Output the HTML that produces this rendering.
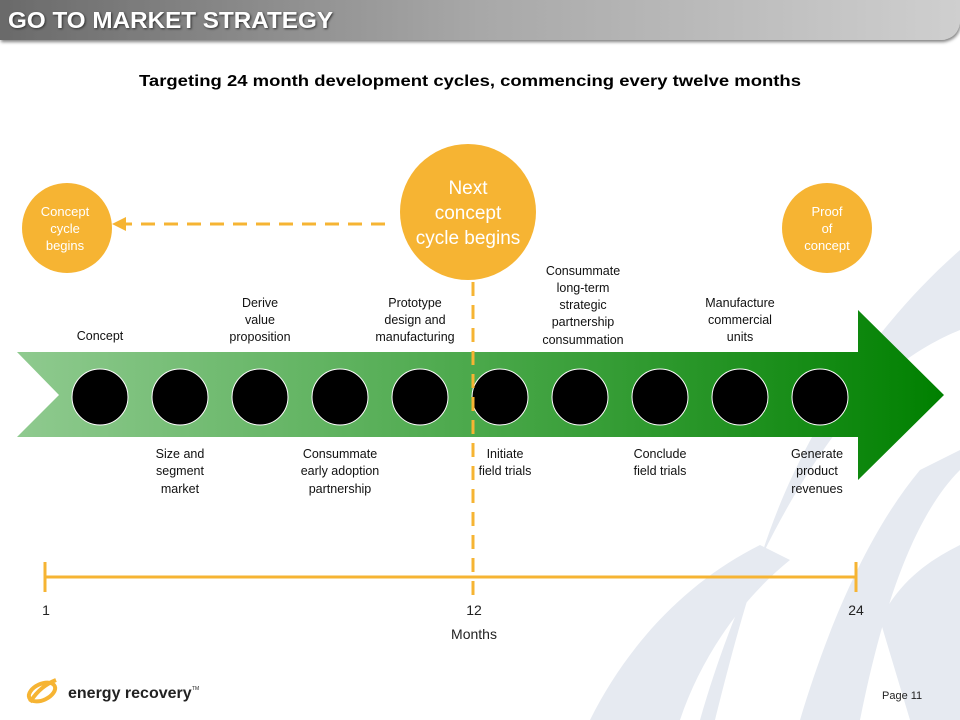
<!DOCTYPE html>
<html><head><meta charset="utf-8"><style>
html,body{margin:0;padding:0;background:#fff;}
svg{display:block;font-family:"Liberation Sans",sans-serif;}
</style></head><body>
<svg width="960" height="720" viewBox="0 0 960 720" xmlns="http://www.w3.org/2000/svg">
<defs>
<linearGradient id="hd" x1="0" x2="1" y1="0" y2="0"><stop offset="0" stop-color="#6a6a6a"/><stop offset="0.5" stop-color="#a8a8a8"/><stop offset="1" stop-color="#cfcfcf"/></linearGradient>
<linearGradient id="gr" x1="0" x2="1" y1="0" y2="0"><stop offset="0" stop-color="#8fca8f"/><stop offset="0.5" stop-color="#4aa84a"/><stop offset="1" stop-color="#008000"/></linearGradient>
<filter id="sh" x="-5%" y="-20%" width="110%" height="160%"><feDropShadow dx="1" dy="2" stdDeviation="1.5" flood-opacity="0.5"/></filter>
</defs>
<!-- background swooshes -->
<path d="M590 720 C630 640 690 580 760 545 L790 560 C740 600 700 660 680 720 Z" fill="#e6eaf1"/>
<path d="M700 720 C740 580 800 470 870 390 C900 360 935 340 960 330 L960 250 C880 320 800 430 760 560 C740 620 725 680 715 720 Z" fill="#e6eaf1"/>
<path d="M800 720 C830 620 870 530 920 470 L960 450 L960 470 C910 520 880 620 860 720 Z" fill="#e6eaf1"/>
<path d="M880 620 C900 580 930 560 960 545 L960 720 L910 720 Z" fill="#e6eaf1"/>
<!-- header -->
<path d="M0 0 H960 V22 Q958 38 942 40 H0 Z" fill="url(#hd)" filter="url(#sh)"/>
<text x="8" y="28" font-size="23" font-weight="bold" fill="#fff" textLength="325" lengthAdjust="spacingAndGlyphs" style="text-shadow:1px 1px 2px #333">GO TO MARKET STRATEGY</text>
<text x="470" y="86" font-size="16" font-weight="bold" text-anchor="middle" fill="#000" textLength="662" lengthAdjust="spacingAndGlyphs">Targeting 24 month development cycles, commencing every twelve months</text>
<!-- arrow -->
<path d="M17 352 H858 V310 L944 395 L858 480 V437 H17 L59 395 Z" fill="url(#gr)"/>
<g fill="#000" stroke="#fff" stroke-width="1">
<circle cx="100" cy="397" r="28"/><circle cx="180" cy="397" r="28"/><circle cx="260" cy="397" r="28"/><circle cx="340" cy="397" r="28"/><circle cx="420" cy="397" r="28"/><circle cx="500" cy="397" r="28"/><circle cx="580" cy="397" r="28"/><circle cx="660" cy="397" r="28"/><circle cx="740" cy="397" r="28"/><circle cx="820" cy="397" r="28"/>
</g>
<!-- orange circles -->
<circle cx="67" cy="228" r="45" fill="#f6b433"/>
<circle cx="468" cy="212" r="68" fill="#f6b433"/>
<circle cx="827" cy="228" r="45" fill="#f6b433"/>
<g fill="#fff" text-anchor="middle">
<text x="65" y="216" font-size="13">Concept</text><text x="65" y="233" font-size="13">cycle</text><text x="65" y="250" font-size="13">begins</text>
<text x="468" y="194" font-size="19">Next</text><text x="468" y="219" font-size="19">concept</text><text x="468" y="244" font-size="19">cycle begins</text>
<text x="827" y="216" font-size="13">Proof</text><text x="827" y="233" font-size="13">of</text><text x="827" y="250" font-size="13">concept</text>
</g>
<!-- dashed lines -->
<line x1="385" y1="224" x2="125" y2="224" stroke="#f6b433" stroke-width="3" stroke-dasharray="14,9"/>
<path d="M112 224 L126 217 L126 231 Z" fill="#f6b433"/>
<line x1="473" y1="282" x2="473" y2="600" stroke="#f6b433" stroke-width="3" stroke-dasharray="14,9"/>
<!-- labels -->
<g font-size="12.5" fill="#111" text-anchor="middle">
<text x="100" y="340">Concept</text>
<text x="260" y="307">Derive</text><text x="260" y="324">value</text><text x="260" y="341">proposition</text>
<text x="415" y="307">Prototype</text><text x="415" y="324">design and</text><text x="415" y="341">manufacturing</text>
<text x="583" y="275">Consummate</text><text x="583" y="292">long-term</text><text x="583" y="309">strategic</text><text x="583" y="326">partnership</text><text x="583" y="344">consummation</text>
<text x="740" y="307">Manufacture</text><text x="740" y="324">commercial</text><text x="740" y="341">units</text>
<text x="180" y="458">Size and</text><text x="180" y="475">segment</text><text x="180" y="493">market</text>
<text x="340" y="458">Consummate</text><text x="340" y="475">early adoption</text><text x="340" y="493">partnership</text>
<text x="505" y="458">Initiate</text><text x="505" y="475">field trials</text>
<text x="660" y="458">Conclude</text><text x="660" y="475">field trials</text>
<text x="817" y="458">Generate</text><text x="817" y="475">product</text><text x="817" y="493">revenues</text>
</g>
<!-- timeline -->
<g stroke="#f6b433" stroke-width="3"><line x1="45" y1="577" x2="856" y2="577"/><line x1="45" y1="562" x2="45" y2="592"/><line x1="856" y1="562" x2="856" y2="592"/></g>
<g font-size="14" fill="#222" text-anchor="middle"><text x="46" y="615">1</text><text x="474" y="615">12</text><text x="856" y="615">24</text><text x="474" y="639">Months</text></g>
<!-- logo -->
<g fill="none" stroke="#f6b433" stroke-width="4"><ellipse cx="42" cy="692" rx="14" ry="8" transform="rotate(-25 42 692)"/><path d="M30 702 C38 690 46 684 56 680"/></g>
<text x="68" y="698" font-size="16" font-weight="bold" fill="#222">energy recovery</text><text x="192" y="690" font-size="5" fill="#222">TM</text>
<text x="882" y="699" font-size="11" fill="#222">Page  11</text>
</svg>
</body></html>
